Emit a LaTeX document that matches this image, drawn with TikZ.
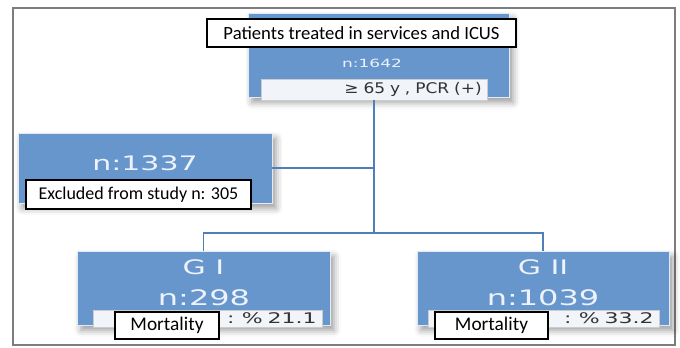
\documentclass[tikz,border=0pt]{standalone}
\usepackage{fontspec}
\setmainfont{Carlito}
\newfontfamily\widefont{DejaVu Sans}[FakeStretch=1.5]
\newfontfamily\stripfont{DejaVu Sans}[FakeStretch=1.16]
\usetikzlibrary{shadows.blur}
\definecolor{boxblue}{RGB}{103,150,205}
\definecolor{linkblue}{RGB}{79,126,184}
\definecolor{framegray}{RGB}{125,125,125}
\definecolor{stripfill}{RGB}{241,244,249}
\definecolor{boxtext}{RGB}{238,242,250}

\begin{document}
\begin{tikzpicture}[x=0.75pt,y=-0.75pt,
  bluebox/.style={draw=white!80!boxblue,fill=boxblue,line width=0.6pt,inner sep=0pt,
    blur shadow={shadow xshift=3pt,shadow yshift=-4pt,shadow blur radius=5pt,shadow opacity=40}},
  strip/.style={draw=black!20,fill=stripfill,line width=0.5pt,inner xsep=4pt,inner ysep=0pt,
    align=right,text=black!80,font=\stripfont\fontsize{11pt}{12pt}\selectfont},
  tag/.style={draw=black,fill=white,line width=0.8pt,inner sep=0pt,text=black},
  boxlabel/.style={text=boxtext,inner sep=0pt},
  link/.style={draw=linkblue,line width=0.9pt}]
  \useasboundingbox (0,0) rectangle (680,347);
  \draw[framegray,line width=1.2pt] (13,8) rectangle (675,345);
  \node[bluebox,minimum width=195.75pt,minimum height=63pt] (top) at (378.5,55) {};
  \node[tag,minimum width=231.75pt,minimum height=21pt,font=\fontsize{14pt}{16pt}\selectfont] (title) at (361.5,33) {Patients treated in services and ICUS};
  \node[boxlabel,font=\widefont\fontsize{8.5pt}{10pt}\selectfont] (ntop) at (372,63) {n:1642};
  \node[strip,text width=161.5pt,minimum height=15.75pt] (ptsub) at (374,89.5) {≥ 65 y , PCR (+)};
  \node[bluebox,minimum width=190.5pt,minimum height=52.5pt] (ex) at (145,168) {};
  \node[boxlabel,font=\widefont\fontsize{15pt}{17pt}\selectfont] (nex) at (145,163) {n:1337};
  \node[tag,minimum width=168.75pt,minimum height=21.75pt,font=\fontsize{13.5pt}{15pt}\selectfont] (exlabel) at (138.5,194.5) {Excluded from study n: 305};
  \node[bluebox,minimum width=189.75pt,minimum height=55.5pt] (g1) at (203.5,288) {};
  \node[boxlabel,font=\widefont\fontsize{15pt}{17pt}\selectfont] (g1name) at (203.5,267) {G I};
  \node[boxlabel,font=\widefont\fontsize{16pt}{18pt}\selectfont] (g1n) at (204,298) {n:298};
  \node[strip,text width=163.75pt,minimum height=12.75pt,font=\widefont\fontsize{11pt}{12pt}\selectfont] (g1rate) at (207.5,318.5) {: \% 21.1};
  \node[tag,minimum width=78pt,minimum height=20.25pt,font=\fontsize{14.5pt}{16pt}\selectfont] (g1mort) at (167,325.5) {Mortality};
  \node[bluebox,minimum width=189pt,minimum height=55.5pt] (g2) at (543,288) {};
  \node[boxlabel,font=\widefont\fontsize{15pt}{17pt}\selectfont] (g2name) at (543,267) {G II};
  \node[boxlabel,font=\widefont\fontsize{16pt}{18pt}\selectfont] (g2n) at (543,298) {n:1039};
  \node[strip,text width=165.25pt,minimum height=12.75pt,font=\widefont\fontsize{11pt}{12pt}\selectfont] (g2rate) at (543.5,318.5) {: \% 33.2};
  \node[tag,minimum width=84.75pt,minimum height=20.25pt,font=\fontsize{14.5pt}{16pt}\selectfont] (g2mort) at (491.5,325.5) {Mortality};
  \coordinate (fork) at (ptsub.south |- 0,233);
  \draw[link] (ptsub.south) -- (fork);
  \draw[link] (ptsub.south |- ex.east) -- (ex.east);
  \draw[link] (g1.north) |- (fork) -| (g2.north);
\end{tikzpicture}
\end{document}
